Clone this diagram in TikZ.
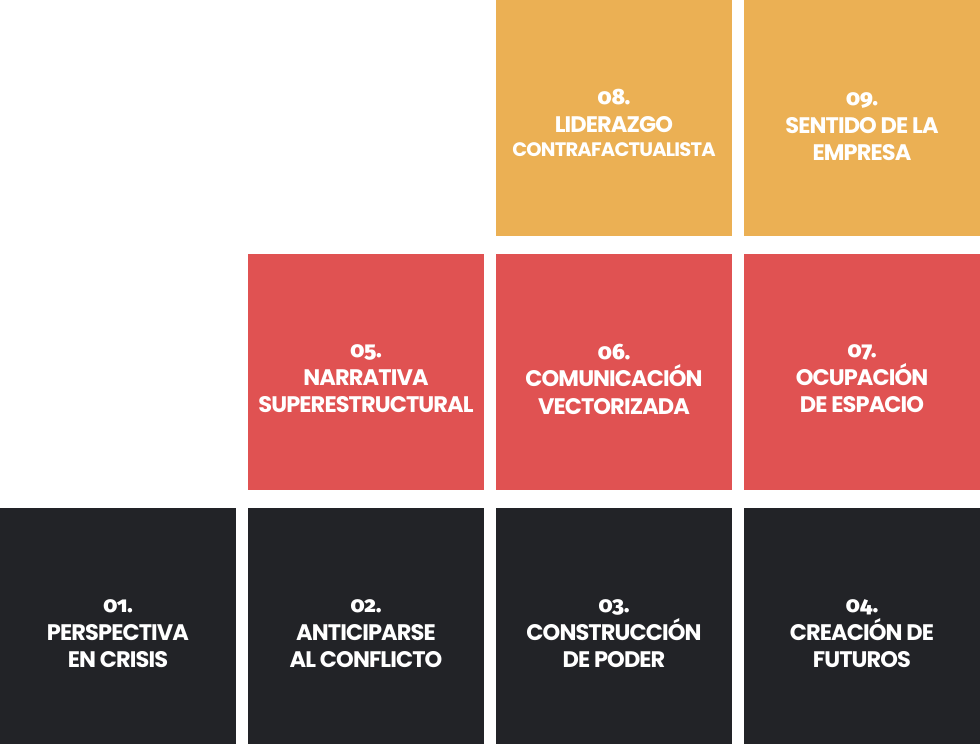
\documentclass[tikz,border=0pt]{standalone}
\usepackage{fontspec}
\setmainfont{Poppins}[BoldFont={* Bold},LetterSpace=-4]
\newfontfamily\numfont{Fira Sans}[Numbers=OldStyle,UprightFont={* SemiBold}]
\definecolor{cOrange}{HTML}{EBB054}
\definecolor{cRed}{HTML}{E05252}
\definecolor{cBlack}{HTML}{222327}
\tikzset{
  tile/.style={draw=none,inner sep=0pt,outer sep=0pt,minimum width=236pt,minimum height=236pt},
  ttl/.style={text=white,align=center,inner sep=0pt,font=\fontsize{22.5}{27.5}\selectfont\bfseries},
}
\newcommand{\nm}[1]{{\numfont\fontsize{22}{27.5}\selectfont #1}}
\begin{document}
\begin{tikzpicture}[x=1pt,y=-1pt]
\useasboundingbox (0,0) rectangle (980,744);
% top row
\node[tile,fill=cOrange] (b08) at (614,118) {};
\node[tile,fill=cOrange] (b09) at (862,118) {};
% middle row
\node[tile,fill=cRed] (b05) at (366,372) {};
\node[tile,fill=cRed] (b06) at (614,372) {};
\node[tile,fill=cRed] (b07) at (862,372) {};
% bottom row
\node[tile,fill=cBlack] (b01) at (118,626) {};
\node[tile,fill=cBlack] (b02) at (366,626) {};
\node[tile,fill=cBlack] (b03) at (614,626) {};
\node[tile,fill=cBlack] (b04) at (862,626) {};
% texts
\node[ttl] (t08) at ([yshift=-5pt]b08.center) {\nm{08.}\\LIDERAZGO\\[-3pt]{\fontsize{19.5}{27.5}\selectfont CONTRAFACTUALISTA}};
\node[ttl] (t09) at ([yshift=-9pt]b09.center) {\nm{09.}\\SENTIDO DE LA\\EMPRESA};
\node[ttl] (t05) at ([yshift=-7pt]b05.center) {\nm{05.}\\NARRATIVA\\SUPERESTRUCTURAL};
\node[ttl] (t06) at ([yshift=-7pt]b06.center) {\nm{06.}\\COMUNICACIÓN\\VECTORIZADA};
\node[ttl] (t07) at ([yshift=-7pt]b07.center) {\nm{07.}\\OCUPACIÓN\\DE ESPACIO};
\node[ttl] (t01) at ([yshift=-8pt]b01.center) {\nm{01.}\\PERSPECTIVA\\EN CRISIS};
\node[ttl] (t02) at ([yshift=-8pt]b02.center) {\nm{02.}\\ANTICIPARSE\\AL CONFLICTO};
\node[ttl] (t03) at ([yshift=-8pt]b03.center) {\nm{03.}\\CONSTRUCCIÓN\\DE PODER};
\node[ttl] (t04) at ([yshift=-8pt]b04.center) {\nm{04.}\\CREACIÓN DE\\FUTUROS};
\end{tikzpicture}
\end{document}
